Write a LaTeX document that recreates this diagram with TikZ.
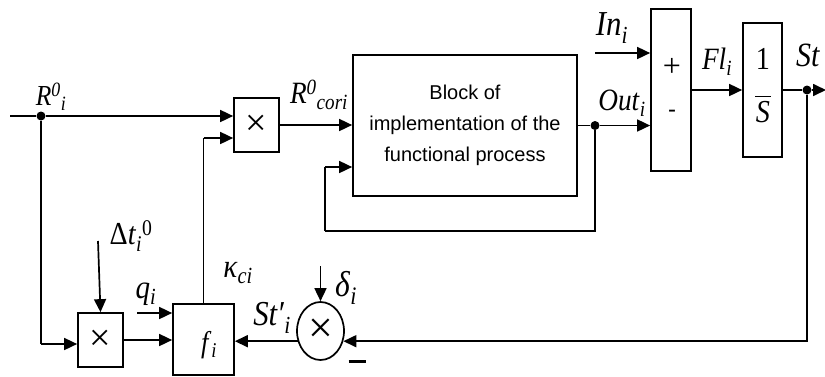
\documentclass[tikz,border=0pt]{standalone}
\usepackage{fontspec}
\usepackage{graphicx}
\setmainfont{Liberation Serif}
\newfontfamily\sansf{Liberation Sans}
\usetikzlibrary{arrows.meta,shapes.geometric,calc}
\newcommand\fsz[1]{\fontsize{#1}{#1}\selectfont}
\newcommand\sbi[1]{\textsubscript{\textit{#1}}}
\newcommand\lab[2]{\scalebox{0.88}[1]{\fsz{#1}#2}}
\tikzset{
  ln/.style={line width=1.7pt},
  arr/.style={ln,-{Triangle[length=13pt,width=12pt]}},
  blk/.style={draw,line width=1.7pt,inner sep=0pt},
  dot/.style={circle,fill,inner sep=0pt,minimum size=9pt},
  lbl/.style={inner sep=0pt},
}
\begin{document}
\begin{tikzpicture}[x=1pt,y=-1pt]
\useasboundingbox (0,0) rectangle (825,376);
\clip (0,0) rectangle (825,376);
% blocks
\node[blk,minimum width=45pt,minimum height=54pt] (mul1) at (256.5,125) {\fsz{38}×};
\node[blk,minimum width=224pt,minimum height=141pt,align=center,font=\sansf\fontsize{20}{31}\selectfont] (block) at (465,125.5) {Block of\\implementation of the\\functional process};
\node[blk,minimum width=40pt,minimum height=162pt] (sum) at (671,90) {};
\node[inner sep=0pt,font=\fsz{32}] (plus) at (672,67) {+};
\node[inner sep=0pt,font=\sansf\fsz{24}] (minus) at (672,114) {-};
\node[blk,minimum width=39pt,minimum height=134pt] (integ) at (762.5,90) {};
\node[inner sep=0pt] (frac) at (763,90) {\scalebox{0.88}[1]{\fsz{32}\begin{tabular}{@{}c@{}}1\\[-5pt]\rule{18pt}{1pt}\\[-6pt]\textit{S}\end{tabular}}};
\node[blk,minimum width=45pt,minimum height=54pt] (mul2) at (100.5,340) {\fsz{38}×};
\node[blk,minimum width=61pt,minimum height=71pt] (fi) at (203.5,339.5) {};
\node[lbl] (filbl) at (209,345) {\lab{30}{\textit{f}\sbi{i}}};
\node[ellipse,draw,line width=1.7pt,minimum width=47pt,minimum height=58pt,inner sep=0pt] (circ) at (320.5,331) {\fsz{44}×};
\node[inner sep=0pt] (neg) at (357,361) {\rule{17pt}{3pt}};
% dots and coordinates
\node[dot] (dR) at (41,116) {};
\node[dot] (dOut) at (595,125.5) {};
\node[dot] (dSt) at (807,90) {};
\coordinate (start) at (10,116);
\coordinate (kk) at (203.5,138);
\coordinate (fb) at (325,231);
\coordinate (fbin) at (325,167);
\coordinate (ins) at (595,53);
\coordinate (stend) at (826,90);
\coordinate (dts) at (98,241);
\coordinate (qs) at (137,313);
\coordinate (ds) at (320.5,266);
\coordinate (m2in) at (41,344);
% connectors
\draw[ln] (start) -- (dR);
\draw[arr] (dR) -- (mul1.west |- dR);
\draw[ln] (dR) -- (m2in);
\draw[arr] (m2in) -- (mul2.west |- m2in);
\draw[arr] (mul2.east) -- (fi.west |- mul2.east);
\draw[arr] (dts) -- (mul2.north);
\draw[arr] (qs) -- (fi.west |- qs);
\draw[ln] (fi.north) -- (kk);
\draw[arr] (kk) -- (mul1.west |- kk);
\draw[arr] (mul1.east) -- (block.west |- mul1.east);
\draw[ln] (block.east) -- (dOut);
\draw[arr] (dOut) -- (sum.west |- dOut);
\draw[ln] (dOut) |- (fb);
\draw[ln] (fb) -- (fbin);
\draw[arr] (fbin) -- (block.west |- fbin);
\draw[arr] (ins) -- (sum.west |- ins);
\draw[arr] (sum.east |- integ.west) -- (integ.west);
\draw[ln] (integ.east) -- (dSt);
\draw[arr] (dSt) -- (stend);
\draw[arr] (dSt) |- (circ.-24);
\draw[arr] (circ.204) -- (fi.east |- circ.204);
\draw[arr] (ds) -- (circ.north);
% labels
\node[lbl] (lR) at (51,97) {\lab{29}{\textit{R}\textsuperscript{\textit{0}}\sbi{i}}};
\node[lbl] (lRc) at (319,95) {\lab{31}{\textit{R}\textsuperscript{\textit{0}}\sbi{cori}}};
\node[lbl] (lIn) at (612,28) {\lab{35}{\textit{In}\sbi{i}}};
\node[lbl] (lOut) at (622,103) {\lab{31}{\textit{Out}\sbi{i}}};
\node[lbl] (lFl) at (717,62) {\lab{31}{\textit{Fl}\sbi{i}}};
\node[lbl,anchor=west] (lSt) at (796,55) {\lab{34}{\textit{St}}};
\node[lbl] (lDt) at (131,236) {\lab{32}{Δ\textit{t}\sbi{i}\textsuperscript{0}}};
\node[lbl] (lq) at (146,294) {\lab{33}{\textit{q}\sbi{i}}};
\node[lbl] (lk) at (238,273) {\lab{33}{\textit{κ}\sbi{ci}}};
\node[lbl] (lSt2) at (272,318) {\lab{35}{\textit{St′}\sbi{i}}};
\node[lbl] (ld) at (346,288) {\lab{36}{\textit{δ}\sbi{i}}};
\end{tikzpicture}
\end{document}
